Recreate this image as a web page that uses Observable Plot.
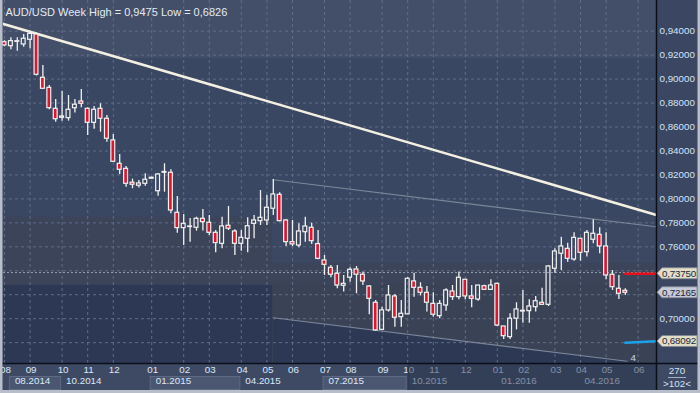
<!DOCTYPE html>
<html><head><meta charset="utf-8">
<script src="https://cdn.jsdelivr.net/npm/d3@7"></script>
<script src="https://cdn.jsdelivr.net/npm/@observablehq/plot@0.6"></script>
<style>html,body{margin:0;padding:0;background:#3e4a63;overflow:hidden}</style>
</head><body><div id="chart"></div>
<script>
// ---- data (weekly AUD/USD bars, index 0 = first visible week) ----
const opens  = [0.9308,0.9275,0.9311,0.9289,0.9328,0.9372,0.9011,0.8927,0.8752,0.8677,0.8674,0.8757,0.8813,0.8752,0.8635,0.8752,0.8669,0.8488,0.8293,0.8251,0.8135,0.8110,0.8126,0.8168,0.8064,0.8218,0.8218,0.7884,0.7756,0.7765,0.7759,0.7834,0.7801,0.7717,0.7625,0.7776,0.7728,0.7625,0.7667,0.7792,0.7814,0.7820,0.7918,0.8034,0.7820,0.7639,0.7611,0.7722,0.7759,0.7623,0.7486,0.7425,0.7375,0.7275,0.7342,0.7411,0.7367,0.7269,0.7133,0.6907,0.7069,0.7186,0.7013,0.7036,0.7311,0.7258,0.7216,0.7124,0.7021,0.7110,0.7227,0.7180,0.7325,0.7186,0.7160,0.7271,0.7241,0.7291,0.6935,0.6846,0.7000,0.7060,0.7063,0.7096,0.7133,0.7116,0.7417,0.7542,0.7583,0.7494,0.7667,0.7555,0.7659,0.7700,0.7603,0.7367,0.7250,0.7233];
const highs  = [0.9320,0.9345,0.9345,0.9372,0.9400,0.9385,0.9114,0.8947,0.8830,0.8897,0.8863,0.8830,0.8913,0.8761,0.8771,0.8794,0.8696,0.8538,0.8371,0.8271,0.8165,0.8154,0.8210,0.8180,0.8210,0.8293,0.8243,0.8020,0.7870,0.7836,0.7847,0.7912,0.7862,0.7736,0.7847,0.7937,0.7742,0.7736,0.7842,0.7862,0.8070,0.8029,0.8162,0.8051,0.7825,0.7820,0.7792,0.7847,0.7797,0.7736,0.7528,0.7444,0.7444,0.7361,0.7425,0.7436,0.7389,0.7275,0.7152,0.7096,0.7277,0.7202,0.7152,0.7342,0.7380,0.7300,0.7269,0.7216,0.7152,0.7250,0.7277,0.7389,0.7325,0.7277,0.7277,0.7280,0.7325,0.7296,0.6935,0.7041,0.7133,0.7236,0.7158,0.7186,0.7255,0.7444,0.7583,0.7680,0.7630,0.7717,0.7670,0.7736,0.7826,0.7759,0.7717,0.7402,0.7361,0.7250];
const lows   = [0.9270,0.9245,0.9233,0.9266,0.9253,0.9025,0.8915,0.8744,0.8640,0.8649,0.8649,0.8716,0.8761,0.8529,0.8582,0.8557,0.8473,0.8305,0.8204,0.8098,0.8085,0.8090,0.8106,0.8165,0.8023,0.8056,0.7876,0.7714,0.7611,0.7639,0.7731,0.7731,0.7695,0.7550,0.7584,0.7736,0.7528,0.7564,0.7550,0.7667,0.7778,0.7778,0.7862,0.7810,0.7603,0.7603,0.7592,0.7639,0.7620,0.7492,0.7361,0.7342,0.7250,0.7222,0.7305,0.7208,0.7277,0.7033,0.6896,0.6903,0.7055,0.6929,0.6929,0.7036,0.7180,0.7190,0.7055,0.7013,0.6999,0.7063,0.7152,0.7158,0.7158,0.7091,0.7146,0.7235,0.7235,0.6935,0.6826,0.6826,0.6907,0.6963,0.6963,0.7055,0.7110,0.7102,0.7380,0.7403,0.7472,0.7480,0.7480,0.7514,0.7625,0.7542,0.7325,0.7236,0.7160,0.7194];
const closes = [0.9281,0.9317,0.9316,0.9337,0.9378,0.9036,0.8919,0.8757,0.8665,0.8688,0.8744,0.8786,0.8794,0.8635,0.8744,0.8669,0.8502,0.8310,0.8243,0.8126,0.8118,0.8129,0.8160,0.8177,0.8204,0.8225,0.7903,0.7756,0.7792,0.7770,0.7834,0.7806,0.7717,0.7631,0.7770,0.7751,0.7625,0.7675,0.7772,0.7820,0.7842,0.7926,0.8037,0.7814,0.7639,0.7620,0.7728,0.7770,0.7647,0.7500,0.7450,0.7367,0.7277,0.7291,0.7408,0.7367,0.7311,0.7166,0.6902,0.7069,0.7194,0.7008,0.7041,0.7333,0.7258,0.7216,0.7133,0.7033,0.7124,0.7236,0.7180,0.7342,0.7186,0.7166,0.7277,0.7241,0.7277,0.6943,0.6854,0.7000,0.7077,0.7066,0.7102,0.7146,0.7116,0.7436,0.7561,0.7603,0.7500,0.7675,0.7550,0.7717,0.7709,0.7603,0.7361,0.7263,0.7208,0.72165];

const title = "AUD/USD Week High = 0,9475 Low = 0,6826";
const priceGrid   = [0.94,0.92,0.90,0.88,0.86,0.84,0.82,0.80,0.78,0.76,0.74,0.72,0.70,0.68];
const priceLabels = [0.94,0.92,0.90,0.88,0.86,0.84,0.82,0.80,0.78,0.76,0.70];
const monthIdx    = [0,4,9,13,17,23,28,32,37,41,45,50,54,59,63,67,72,77,81,86,90,94,99];
const monthLabels = ["08","09","10","11","12","01","02","03","04","05","06","07","08","09","10","11","12","01","02","03","04","05","06"];
const quarterIdx    = [1,9,23,37,50,63,77,90];
const quarterLabels = ["08.2014","10.2014","01.2015","04.2015","07.2015","10.2015","01.2016","04.2016"];
const quarterBoxes  = [[1,9],[23,37],[50,63]];

// drawn objects (bar index, price)
const trendLine     = [{i:-1, p:0.9473},{i:102, p:0.7863}];
const channelTop    = [{i:42, p:0.8160},{i:102, p:0.7766}];
const channelBottom = [{i:42, p:0.7008},{i:97.3, p:0.6645}];
const channelBottomExt = [{i:42, p:0.7008},{i:102, p:0.6614}];
const redLevel   = [{i:97, p:0.7375},{i:102, p:0.7375}];
const blueLine   = [{i:97, p:0.6799},{i:102, p:0.6812}];
const dottedLevel = 0.7385;
const tagValues  = [0.7375, 0.72165, 0.68092];
const tagKinds   = ["level","bid","line"];
const footerTop = "270", footerBottom = ">102<";

// shaded background zones (bar index / price)
const zoneTop   = {x1:-0.2, x2:102, y1:0.9172, y2:0.97};
const zoneGrey  = {x1:-0.2, x2:102, y1:0.7278, y2:0.7845};
const zoneGreyR = {x1:41.9, x2:102, y1:0.66, y2:0.7278};
const zoneNavyL = {x1:-0.2, x2:41.9, y1:0.66, y2:0.7278};
const zoneBlueR = {x1:41.9, x2:102, y1:0.7461, y2:0.7845};

// ---- build ----
const candles = opens.map((o, i) => ({i, o, h: highs[i], l: lows[i], c: closes[i]}));
const months = monthIdx.map((i, k) => ({i, label: monthLabels[k]}));
const quarters = quarterIdx.map((i, k) => ({i, label: quarterLabels[k]}));
const fmt = v => d3.format(".5f")(v).replace(".", ",");
const BOTTOM = 0.6626, TOP = 0.9656;
const RED = "#e0142c", WHITE = "#f2f2f2";
const FS = 9.8;

const chart = Plot.plot({
  width: 700, height: 393,
  marginLeft: 3, marginRight: 44, marginTop: 0, marginBottom: 30,
  style: {background: "#3e4a63", color: "#d2e2f8", fontFamily: "'Liberation Sans', Arial, sans-serif", fontSize: "10px"},
  x: {domain: [-0.156, 101.875], axis: null},
  y: {domain: [BOTTOM, TOP], axis: null},
  marks: [
    Plot.frame({fill: "#3a4762", stroke: "none"}),
    Plot.rect([zoneTop],   {x1:"x1", x2:"x2", y1:"y1", y2:"y2", fill:"#434f68", clip:true}),
    Plot.rect([zoneGrey],  {x1:"x1", x2:"x2", y1:"y1", y2:"y2", fill:"#3b4458", clip:true}),
    Plot.rect([zoneGreyR], {x1:"x1", x2:"x2", y1:"y1", y2:"y2", fill:"#3a4356", clip:true}),
    Plot.rect([zoneNavyL], {x1:"x1", x2:"x2", y1:"y1", y2:"y2", fill:"#2d3954", clip:true}),
    Plot.rect([zoneBlueR], {x1:"x1", x2:"x2", y1:"y1", y2:"y2", fill:"#3c4862", clip:true}),
    Plot.areaY(channelBottomExt, {x:"i", y1: BOTTOM - 0.01, y2:"p", fill:"#2d3954", clip:true}),
    Plot.gridY({ticks: priceGrid, stroke:"#5f6d88", strokeOpacity:1, strokeDasharray:"3,3"}),
    Plot.gridX({ticks: monthIdx, stroke:"#5f6d88", strokeOpacity:1, strokeDasharray:"3,3"}),
    Plot.ruleY([dottedLevel], {stroke:"#98a1b3", strokeDasharray:"2,2", strokeWidth:1}),
    Plot.line(channelTop, {x:"i", y:"p", stroke:"#7c8699", strokeWidth:1.2, clip:true}),
    Plot.line(channelBottom, {x:"i", y:"p", stroke:"#7c8699", strokeWidth:1.2, clip:true}),
    Plot.text([channelBottom[1]], {x:"i", y:"p", text: () => "4", dx:6, dy:-3, fill:"#c8d6ec", fontSize:FS}),
    Plot.line(trendLine, {x:"i", y:"p", stroke:"#f3efe2", strokeWidth:2.5, clip:true}),
    // candles
    Plot.ruleX(candles, {x:"i", y1:"h", y2: d => Math.max(d.o, d.c), stroke: WHITE, strokeWidth:1.3}),
    Plot.ruleX(candles, {x:"i", y1: d => Math.min(d.o, d.c), y2:"l", stroke: WHITE, strokeWidth:1.3}),
    Plot.rect(candles, {x1: d => d.i - 0.3, x2: d => d.i + 0.3, y1:"o", y2:"c",
      fill: d => d.c < d.o ? RED : "none", stroke: WHITE, strokeWidth:1.2}),
    Plot.line(redLevel, {x:"i", y:"p", stroke:"#e8101c", strokeWidth:2.5, clip:true}),
    Plot.line(blueLine, {x:"i", y:"p", stroke:"#1aa2ea", strokeWidth:2.5, clip:true}),
    Plot.text([title], {frameAnchor:"top-left", dx:2, dy:8, textAnchor:"start", fill:"#e4eaf4", fontSize:11}),
    Plot.axisY({anchor:"right", ticks: priceLabels, tickFormat: fmt, tickSize:0, tickPadding:3, label:null, fill:"#d2e2f8", fontSize:FS}),
    Plot.text(months, {x:"i", text:"label", frameAnchor:"bottom", dy:9, dx:1, fill:"#dce8fa", fontSize:FS}),
    Plot.text(quarters, {x:"i", text:"label", frameAnchor:"bottom", dy:20, dx:4, textAnchor:"start", fill:"#dce8fa", fontSize:FS})
  ]
});
document.getElementById("chart").appendChild(chart);

// ---- decorations drawn with the plot's own scales ----
const X = v => chart.scale("x").apply(v), Y = v => chart.scale("y").apply(v);
const svg = d3.select(chart);
const back = svg.insert("g", ":first-child");
back.append("rect").attr("x", 656).attr("y", 0).attr("width", 44).attr("height", 363).attr("fill", "#3b4762");
quarterBoxes.forEach(([a, b]) => back.append("rect")
  .attr("x", X(a) - 1).attr("y", 376.5).attr("width", X(b) - X(a)).attr("height", 13)
  .attr("fill", "#4b5771").attr("stroke", "#5e6a84"));

const front = svg.append("g").attr("text-anchor", "start");
// dimmed part of the time axis
front.append("rect").attr("x", X(63) + 1).attr("y", 364).attr("width", 656 - X(63) - 1).attr("height", 27)
  .attr("fill", "#27324b").attr("opacity", 0.5);
front.append("line").attr("x1", X(63) + 1).attr("x2", X(63) + 1).attr("y1", 364).attr("y2", 390).attr("stroke", "#2a3550");
// frame lines
front.append("line").attr("x1", 656.5).attr("x2", 656.5).attr("y1", 0).attr("y2", 393).attr("stroke", "#0b0f18").attr("stroke-width", 1.5);
front.append("line").attr("x1", 0).attr("x2", 700).attr("y1", 363.5).attr("y2", 363.5).attr("stroke", "#0b0f18").attr("stroke-width", 1.5);
// price tags
const tagFill = {level: "#e2dec8", bid: "#c6cad6", line: "#e2dec8"};
tagValues.forEach((v, k) => {
  const y = Y(v), x0 = 657;
  front.append("polygon")
    .attr("points", `${x0},${y} ${x0+5},${y-5.5} ${x0+40},${y-5.5} ${x0+40},${y+5.5} ${x0+5},${y+5.5}`)
    .attr("fill", tagFill[tagKinds[k]]).attr("stroke", "#7e8494").attr("stroke-width", 0.8);
  front.append("text").attr("x", x0 + 5).attr("y", y).attr("dy", "0.35em").attr("text-anchor", "start")
    .attr("font-size", FS).attr("letter-spacing", -0.2).attr("fill", "#1e2638").text(fmt(v));
});
// footer box
front.append("text").attr("x", 677).attr("y", 371).attr("dy", "0.35em").attr("text-anchor", "middle")
  .attr("font-size", FS).attr("fill", "#d2e2f8").text(footerTop);
front.append("line").attr("x1", 668).attr("x2", 686).attr("y1", 377.5).attr("y2", 377.5).attr("stroke", "#9fb0c8");
front.append("text").attr("x", 677).attr("y", 383.5).attr("dy", "0.35em").attr("text-anchor", "middle")
  .attr("font-size", FS).attr("fill", "#d2e2f8").text(footerBottom);
// outer border
front.append("rect").attr("x", 0).attr("y", 0).attr("width", 2.5).attr("height", 393).attr("fill", "#b8bfcb");
front.append("rect").attr("x", 697.5).attr("y", 0).attr("width", 2.5).attr("height", 393).attr("fill", "#b8bfcb");
front.append("rect").attr("x", 0).attr("y", 390).attr("width", 700).attr("height", 3).attr("fill", "#b8bfcb");
</script>
</body></html>
